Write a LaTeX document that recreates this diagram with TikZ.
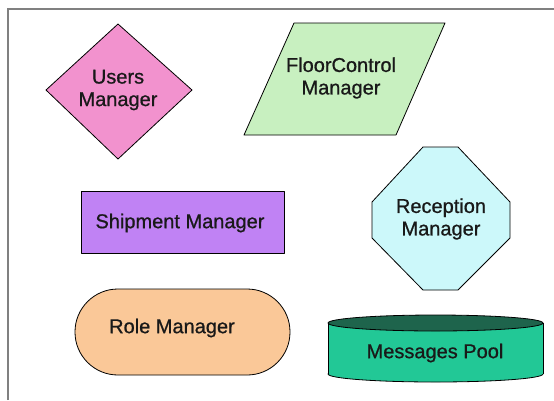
\documentclass[tikz,border=0pt]{standalone}
\usepackage{fontspec}
\setmainfont{Liberation Sans}
\newfontfamily\lblfont[FakeBold=0.8]{Liberation Sans}
\begin{document}
\begin{tikzpicture}[x=1pt,y=-1pt,
  shapeline/.style={draw=black, line width=0.8pt, line join=round},
  lbl/.style={font=\lblfont\fontsize{20}{22.5}\selectfont, align=center, inner sep=0pt, text=black!90}]
\definecolor{pinkc}{RGB}{242,146,206}
\definecolor{greenc}{RGB}{200,240,192}
\definecolor{purplec}{RGB}{192,130,244}
\definecolor{cyanc}{RGB}{204,248,250}
\definecolor{peachc}{RGB}{250,200,152}
\definecolor{tealc}{RGB}{34,200,150}
\definecolor{tealdark}{RGB}{30,100,76}
\definecolor{framec}{RGB}{128,128,128}
\useasboundingbox (0,0) rectangle (554,400);
\fill[white] (0,0) rectangle (554,400);
% frame
\draw[framec, line width=2pt] (8,400) -- (8,9) -- (554,9);
% Users Manager diamond
\filldraw[shapeline, fill=pinkc] (118,24) -- (192,90) -- (118,159) -- (46,90) -- cycle;
\node[lbl] (users) at (118,90) {Users\\Manager};
% FloorControl parallelogram
\filldraw[shapeline, fill=greenc] (294,23) -- (445,23) -- (396,135) -- (244,135) -- cycle;
\node[lbl] (floor) at (341,78) {FloorControl\\Manager};
% Shipment rectangle
\filldraw[shapeline, fill=purplec] (81,191) rectangle (284,253);
\node[lbl] (ship) at (180,223) {Shipment Manager};
% Reception octagon
\filldraw[shapeline, fill=cyanc] (423,147) -- (458,147) -- (510,202) -- (510,238) -- (458,290) -- (423,290) -- (372,238) -- (372,202) -- cycle;
\node[lbl] (recep) at (441,219) {Reception\\Manager};
% Role Manager stadium
\filldraw[shapeline, fill=peachc, rounded corners=42.9pt] (75,289) rectangle (290,375);
\node[lbl] (role) at (172,328) {Role Manager};
% Messages Pool cylinder
\filldraw[shapeline, fill=tealc] (435.5,374) ellipse (107.5 and 8);
\fill[tealc] (328,323) rectangle (543,374);
\draw[shapeline] (328,323) -- (328,374);
\draw[shapeline] (543,323) -- (543,374);
\filldraw[shapeline, fill=tealdark] (435.5,323) ellipse (107.5 and 8);
\node[lbl] (pool) at (435,353) {Messages Pool};
\end{tikzpicture}
\end{document}
